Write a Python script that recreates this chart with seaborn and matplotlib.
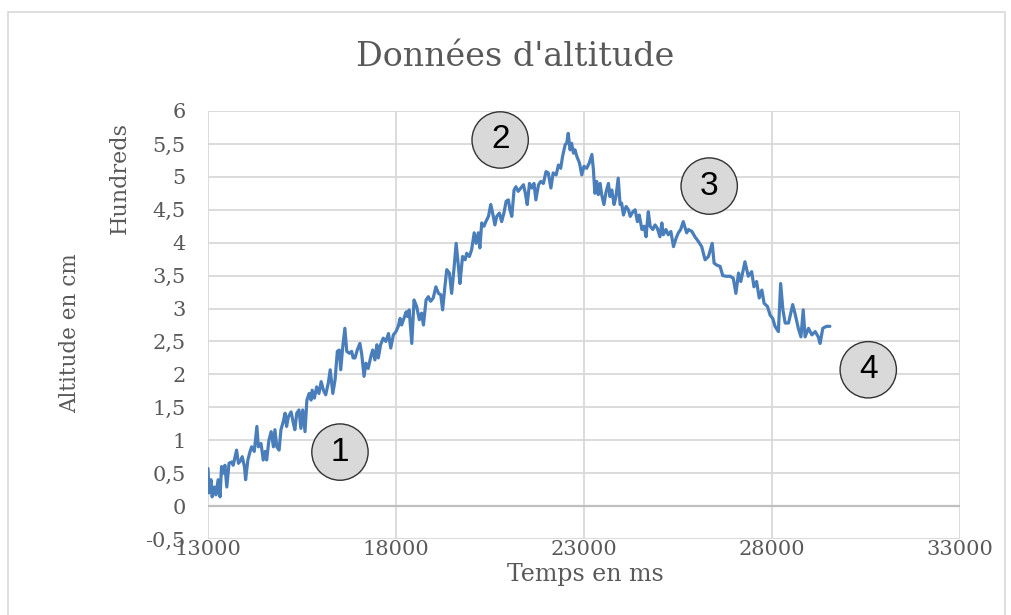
import matplotlib
matplotlib.use("Agg")
import matplotlib.pyplot as plt
from matplotlib.patches import Rectangle
from matplotlib.ticker import FuncFormatter, MultipleLocator
import seaborn as sns
import pandas as pd

# Altitude log: time stamps (ms) and measured altitude (cm)
time_ms = [
    13000, 13030, 13080, 13110, 13170, 13210, 13270, 13320, 13360, 13410,
    13450, 13500, 13560, 13630, 13670, 13760, 13810, 13880, 13910, 13970,
    14000, 14060, 14120, 14160, 14230, 14300, 14340, 14410, 14470, 14520,
    14560, 14620, 14680, 14740, 14780, 14830, 14890, 14940, 15000, 15050,
    15090, 15140, 15210, 15270, 15310, 15360, 15420, 15470, 15520, 15580,
    15630, 15690, 15740, 15770, 15830, 15890, 15950, 16010, 16070, 16130,
    16200, 16250, 16320, 16380, 16440, 16490, 16530, 16580, 16640, 16690,
    16760, 16820, 16860, 16910, 16970, 17040, 17090, 17150, 17200, 17260,
    17330, 17380, 17440, 17490, 17530, 17590, 17660, 17730, 17800, 17860,
    17930, 18000, 18060, 18110, 18150, 18210, 18270, 18300, 18350, 18420,
    18480, 18550, 18620, 18680, 18730, 18800, 18860, 18920, 18990, 19060,
    19130, 19190, 19240, 19300, 19350, 19420, 19480, 19540, 19600, 19660,
    19700, 19770, 19840, 19880, 19950, 20010, 20080, 20130, 20190, 20230,
    20280, 20340, 20390, 20460, 20520, 20570, 20630, 20680, 20750, 20810,
    20870, 20930, 20990, 21030, 21080, 21140, 21190, 21250, 21320, 21390,
    21440, 21490, 21550, 21610, 21670, 21720, 21790, 21850, 21920, 21990,
    22050, 22120, 22180, 22260, 22320, 22380, 22430, 22500, 22540, 22580,
    22630, 22670, 22720, 22760, 22810, 22880, 22940, 23000, 23070, 23140,
    23210, 23250, 23290, 23340, 23380, 23430, 23470, 23530, 23590, 23650,
    23690, 23740, 23800, 23850, 23910, 23960, 24000, 24050, 24120, 24180,
    24230, 24300, 24360, 24420, 24470, 24540, 24600, 24650, 24710, 24760,
    24830, 24890, 24950, 25020, 25070, 25110, 25180, 25240, 25310, 25380,
    25450, 25510, 25570, 25640, 25730, 25780, 25870, 25950, 26040, 26130,
    26220, 26310, 26410, 26460, 26530, 26620, 26690, 26780, 26890, 26970,
    27040, 27110, 27170, 27280, 27370, 27460, 27520, 27590, 27660, 27730,
    27790, 27880, 27950, 28020, 28080, 28170, 28230, 28290, 28350, 28440,
    28550, 28610, 28700, 28770, 28830, 28880, 28970, 29060, 29150, 29230,
    29280, 29350, 29450, 29540,
]
altitude_cm = [
    57, 20, 40, 14, 29, 17, 40, 14, 60, 50,
    62, 29, 65, 67, 62, 85, 65, 70, 75, 60,
    40, 70, 83, 90, 83, 121, 90, 95, 70, 83,
    70, 100, 113, 90, 116, 90, 85, 116, 128, 141,
    121, 136, 143, 126, 116, 141, 146, 118, 146, 113,
    161, 171, 161, 176, 164, 181, 171, 189, 176, 169,
    187, 207, 171, 192, 235, 237, 207, 240, 270, 235,
    232, 235, 225, 225, 237, 247, 230, 197, 217, 209,
    227, 237, 222, 245, 225, 245, 255, 250, 262, 240,
    260, 265, 273, 285, 275, 285, 295, 288, 298, 247,
    313, 303, 283, 293, 275, 313, 318, 311, 316, 333,
    323, 321, 298, 333, 359, 354, 323, 359, 399, 364,
    338, 379, 374, 384, 379, 389, 415, 399, 415, 392,
    430, 425, 432, 440, 458, 445, 427, 440, 445, 432,
    445, 463, 465, 450, 440, 480, 485, 478, 483, 488,
    475, 458, 490, 483, 490, 465, 488, 493, 490, 508,
    506, 483, 506, 503, 518, 513, 531, 549, 551, 566,
    541, 551, 536, 541, 531, 521, 503, 516, 513, 521,
    534, 511, 475, 493, 473, 490, 473, 458, 478, 490,
    470, 480, 458, 470, 498, 458, 460, 442, 455, 450,
    440, 447, 450, 432, 442, 420, 425, 409, 447, 425,
    420, 427, 422, 409, 430, 412, 420, 412, 417, 394,
    407, 415, 420, 432, 415, 420, 417, 409, 402, 394,
    374, 379, 399, 369, 366, 364, 350, 349, 349, 346,
    323, 354, 341, 371, 349, 356, 333, 341, 316, 328,
    308, 303, 290, 285, 273, 265, 338, 298, 278, 278,
    306, 293, 270, 257, 298, 257, 270, 260, 265, 257,
    247, 270, 273, 273,
]

x_ticks = [13000, 18000, 23000, 28000, 33000]
markers = ["1", "2", "3", "4"]

df = pd.DataFrame({"t": time_ms, "alt": [a / 100 for a in altitude_cm]})

sns.set_theme(style="white")
plt.rcParams["font.family"] = ["DejaVu Serif"]

W, H = 1011, 615
fig = plt.figure(figsize=(W / 100, H / 100), dpi=100)
fig.patch.set_facecolor("white")

# outer chart frame
fig.patches.append(Rectangle((8 / W, -0.02), 997 / W, 1 - 12 / H + 0.02,
                             transform=fig.transFigure, fill=False,
                             edgecolor="#d9d9d9", linewidth=1.2))

ax = fig.add_axes([208 / W, 1 - 539 / H, (960 - 208) / W, (539 - 111) / H])

grid_c = "#d9d9d9"
text_c = "#595959"

sns.lineplot(data=df, x="t", y="alt", ax=ax, color="#4a7ebb",
             linewidth=2.3, sort=False, estimator=None)

ax.set_xlim(13000, 33000)
ax.set_ylim(-0.5, 6)
ax.set_xticks(x_ticks)
ax.yaxis.set_major_locator(MultipleLocator(0.5))
ax.yaxis.set_major_formatter(
    FuncFormatter(lambda v, _: f"{v:g}".replace(".", ",")))

ax.grid(True, color=grid_c, linewidth=1.3)
ax.set_axisbelow(True)
for s in ax.spines.values():
    s.set_visible(False)
ax.axhline(0, color="#bfbfbf", linewidth=1.6, zorder=1)

ax.tick_params(axis="both", length=0, labelsize=15, labelcolor=text_c)
ax.tick_params(axis="y", pad=16)
ax.tick_params(axis="x", pad=1)

ax.set_xlabel("")
ax.set_ylabel("")
fig.text(585 / W, 1 - 575 / H, "Temps en ms", ha="center", va="center",
         fontsize=17, color=text_c)
fig.text(70 / W, 1 - 333 / H, "Altitude en cm", ha="center", va="center",
         rotation=90, fontsize=15.5, color=text_c)
fig.text(120 / W, 1 - 178 / H, "Hundreds", ha="center", va="center",
         rotation=90, fontsize=16, color=text_c)
fig.text(515 / W, 1 - 57 / H, "Données d'altitude", ha="center",
         va="center", fontsize=24, color=text_c)

# numbered phase markers
marker_pos = [(16510, 0.82), (20770, 5.56), (26330, 4.86), (30560, 2.07)]
for label, (mx, my) in zip(markers, marker_pos):
    ax.text(mx, my, label, ha="center", va="center", fontsize=24,
            family=["Liberation Sans"], color="black", zorder=5,
            bbox=dict(boxstyle="circle,pad=0.38", facecolor="#d9d9d9",
                      edgecolor="#333333", linewidth=1.0))

fig.savefig("out.png", dpi=100)
